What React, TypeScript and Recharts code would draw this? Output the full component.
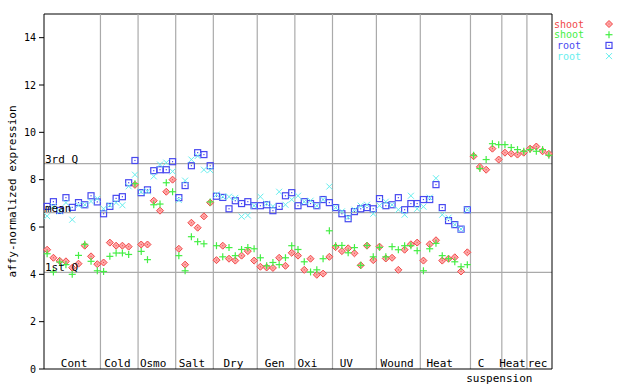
import React from 'react'
import { ScatterChart, Scatter, XAxis, YAxis, ReferenceLine } from 'recharts'

const FONT = '"DejaVu Sans Mono", monospace'

// groups along the x axis (sample counts per group)
const groups = ['Cont', 'Cold', 'Osmo', 'Salt', 'Dry', 'Gen', 'Oxi', 'UV', 'Wound', 'Heat', 'C', 'Heat', 'rec']
const groupSizes = [9, 6, 6, 6, 7, 6, 6, 7, 7, 8, 5, 4, 4]
const labelAt = [4.8, 11.7, 17.4, 23.6, 30.2, 36.8, 42.0, 48.2, 56.3, 63.1, 69.7, 74.7, 78.7]
const subLabel = 'suspension'
const subLabelAt = 72.6

const yTicks = [0, 2, 4, 6, 8, 10, 12, 14]
const quartiles = [8.68, 6.61, 4.08]
const quartileNames = ['3rd Q', 'mean', '1st Q']

const shootRed = [
  5.04, 4.70, 4.57, 4.55, 4.28, 4.45, 5.21, 4.76, 4.43, 4.50,
  5.34, 5.21, 5.21, 5.17, 7.78, 5.26, 5.26, 7.11, 6.69, 7.49,
  8.00, 5.08, 4.41, 6.18, 5.97, 6.45, 7.03, 4.60, 5.21, 4.66,
  4.58, 4.79, 4.98, 4.58, 4.32, 4.29, 4.27, 4.70, 4.36, 4.91,
  4.79, 4.19, 4.66, 3.98, 4.03, 4.74, 5.15, 4.98, 5.10, 4.89,
  4.38, 5.21, 4.60, 5.17, 4.67, 4.70, 4.19, 5.04, 5.27, 5.34,
  4.58, 5.27, 5.44, 4.58, 4.66, 4.72, 4.12, 4.93, 8.99, 8.54,
  8.42, 9.31, 8.85, 9.14, 9.10, 9.06, 9.14, 9.31, 9.40, 9.20, 9.09,
]
const shootGreen = [
  4.87, 4.10, 4.52, 4.41, 4.00, 4.80, 5.27, 4.55, 4.15, 4.12,
  4.76, 4.90, 4.90, 4.84, 7.83, 4.97, 4.62, 6.94, 6.97, 7.87,
  7.49, 4.79, 4.15, 5.59, 5.38, 5.29, 7.06, 5.21, 4.74, 5.13,
  4.79, 5.05, 5.13, 5.08, 4.70, 4.36, 4.50, 4.41, 4.70, 5.21,
  5.05, 4.53, 4.10, 4.19, 4.66, 5.84, 5.21, 5.22, 4.91, 5.13,
  4.38, 5.22, 4.74, 5.14, 4.74, 5.17, 5.04, 5.21, 5.21, 5.00,
  4.15, 5.08, 5.31, 4.79, 4.66, 4.53, 4.32, 4.41, 9.03, 8.47,
  8.85, 9.52, 9.48, 9.48, 9.36, 9.27, 9.20, 9.27, 9.20, 9.27, 9.03,
]
const rootBlue = [
  6.87, 7.07, 6.70, 7.24, 6.83, 7.03, 6.94, 7.32, 7.06, 6.56,
  6.87, 7.21, 7.28, 7.87, 8.81, 7.45, 7.57, 8.38, 8.42, 8.42,
  8.76, 7.24, 7.75, 8.59, 9.14, 9.06, 8.59, 7.30, 7.25, 6.77,
  7.11, 6.99, 7.07, 6.90, 6.90, 6.94, 6.69, 6.87, 7.32, 7.45,
  6.90, 7.07, 6.99, 6.90, 7.16, 7.03, 6.82, 6.56, 6.35, 6.65,
  6.77, 6.82, 6.77, 7.20, 6.90, 6.94, 7.24, 6.73, 6.99, 6.99,
  7.16, 7.16, 7.79, 6.82, 6.27, 6.10, 5.91, 6.73,
]
const rootCyan = [
  6.46, 6.87, 6.66, 7.03, 6.31, 6.92, 6.94, 7.08, 7.20, 6.77,
  6.92, 7.03, 6.92, 7.72, 8.21, 7.48, 7.51, 8.14, 8.64, 8.72,
  8.35, 7.14, 7.96, 8.85, 9.00, 8.42, 8.40, 7.37, 7.28, 7.28,
  7.23, 6.44, 6.49, 6.90, 7.28, 6.99, 6.87, 7.49, 6.94, 7.16,
  7.32, 7.07, 7.11, 6.90, 7.16, 7.71, 6.82, 6.66, 6.41, 6.73,
  6.90, 6.94, 6.56, 6.90, 7.07, 6.94, 6.73, 6.52, 7.32, 6.77,
  6.86, 7.24, 8.06, 6.52, 6.39, 6.10, 5.91, 6.73,
]

const RED = '#f04848'
const GREEN = '#44ee44'
const BLUE = '#4848f0'
const CYAN = '#66eeee'

const total = groupSizes.reduce((a, b) => a + b, 0)
const bounds: number[] = []
groupSizes.reduce((acc, n) => {
  bounds.push(acc + n)
  return acc + n
}, 0)
bounds.pop()

const toPoints = (vals: number[]) => vals.map((v, i) => ({ x: i + 0.5, y: v }))

const Diamond = ({ cx, cy }: any) => (
  <g>
    <polygon points={`${cx},${cy - 3.5} ${cx + 3.5},${cy} ${cx},${cy + 3.5} ${cx - 3.5},${cy}`} fill="#ffa8a8" stroke={RED} strokeWidth={1} />
    <rect x={cx - 0.5} y={cy - 0.5} width={1} height={1} fill={RED} />
  </g>
)
const Plus = ({ cx, cy }: any) => (
  <g stroke={GREEN} strokeWidth={1.2}>
    <line x1={cx - 3.5} y1={cy} x2={cx + 3.5} y2={cy} />
    <line x1={cx} y1={cy - 3.5} x2={cx} y2={cy + 3.5} />
  </g>
)
const Square = ({ cx, cy }: any) => (
  <g>
    <rect x={cx - 3} y={cy - 3} width={6} height={6} fill="none" stroke={BLUE} strokeWidth={1.2} />
    <rect x={cx - 0.6} y={cy - 0.6} width={1.2} height={1.2} fill={BLUE} />
  </g>
)
const Cross = ({ cx, cy }: any) => (
  <g stroke={CYAN} strokeWidth={1}>
    <line x1={cx - 3} y1={cy - 3} x2={cx + 3} y2={cy + 3} />
    <line x1={cx - 3} y1={cy + 3} x2={cx + 3} y2={cy - 3} />
  </g>
)

const legendItems = [
  { name: 'shoot', color: RED, Shape: Diamond },
  { name: 'shoot', color: GREEN, Shape: Plus },
  { name: 'root', color: BLUE, Shape: Square },
  { name: 'root', color: CYAN, Shape: Cross },
]

const tickVals = [...labelAt, subLabelAt]
const tickNames = [...groups, subLabel]

const GroupTick = ({ x, y, index }: any) => {
  const sub = index === tickNames.length - 1
  return (
    <text x={x} y={sub ? y + 13 : y - 2} textAnchor="middle" fontFamily={FONT} fontSize={11} fill="#000">
      {tickNames[index]}
    </text>
  )
}

const YLabel = ({ viewBox }: any) => {
  const cx = viewBox.x + 12
  const cy = viewBox.y + viewBox.height / 2
  return (
    <text x={cx} y={cy} transform={`rotate(-90 ${cx} ${cy})`} textAnchor="middle" dominantBaseline="central" fontFamily={FONT} fontSize={11} fill="#000">
      affy-normalized expression
    </text>
  )
}

export default function App() {
  return (
    <div style={{ position: 'absolute', left: 0, top: 0, width: 640, height: 384, background: '#fff' }}>
      <ScatterChart width={640} height={384} margin={{ top: 14, right: 88, bottom: 0, left: 0 }}>
        <XAxis
          type="number"
          dataKey="x"
          domain={[0, total]}
          ticks={tickVals}
          interval={0}
          tick={<GroupTick />}
          tickLine={false}
          tickSize={0}
          tickMargin={0}
          height={15}
          axisLine={{ stroke: '#000' }}
        />
        <YAxis
          type="number"
          dataKey="y"
          domain={[0, 15]}
          ticks={yTicks}
          width={44}
          tickSize={5}
          tickMargin={3}
          tick={{ fontFamily: FONT, fontSize: 10, fill: '#000' }}
          tickLine={{ stroke: '#000' }}
          axisLine={{ stroke: '#000' }}
          label={<YLabel />}
        />
        <YAxis
          yAxisId="r"
          orientation="right"
          type="number"
          domain={[0, 15]}
          ticks={yTicks}
          mirror
          tickSize={5}
          tickFormatter={() => ''}
          tickLine={{ stroke: '#000' }}
          axisLine={{ stroke: '#000' }}
        />
        <ReferenceLine y={15} stroke="#000" />
        {bounds.map((b) => (
          <ReferenceLine key={'b' + b} x={b} stroke="#aaaaaa" strokeWidth={1.2} />
        ))}
        {quartiles.map((q, i) => (
          <ReferenceLine
            key={'q' + i}
            y={q}
            stroke="#aaaaaa"
            strokeWidth={1.2}
            label={{ value: quartileNames[i], position: 'insideBottomLeft', offset: 1, fill: '#000', fontSize: 11, fontFamily: FONT }}
          />
        ))}
        <Scatter data={toPoints(shootRed)} shape={<Diamond />} isAnimationActive={false} />
        <Scatter data={toPoints(shootGreen)} shape={<Plus />} isAnimationActive={false} />
        <Scatter data={toPoints(rootBlue)} shape={<Square />} isAnimationActive={false} />
        <Scatter data={toPoints(rootCyan)} shape={<Cross />} isAnimationActive={false} />
      </ScatterChart>
      <svg width={92} height={56} style={{ position: 'absolute', left: 548, top: 14 }}>
        {legendItems.map((it, i) => (
          <g key={i}>
            <text x={21} y={10 + i * 10.7 + 3.5} textAnchor="middle" fontFamily={FONT} fontSize={10} fill={it.color}>
              {it.name}
            </text>
            <it.Shape cx={61} cy={10 + i * 10.7} />
          </g>
        ))}
      </svg>
    </div>
  )
}
